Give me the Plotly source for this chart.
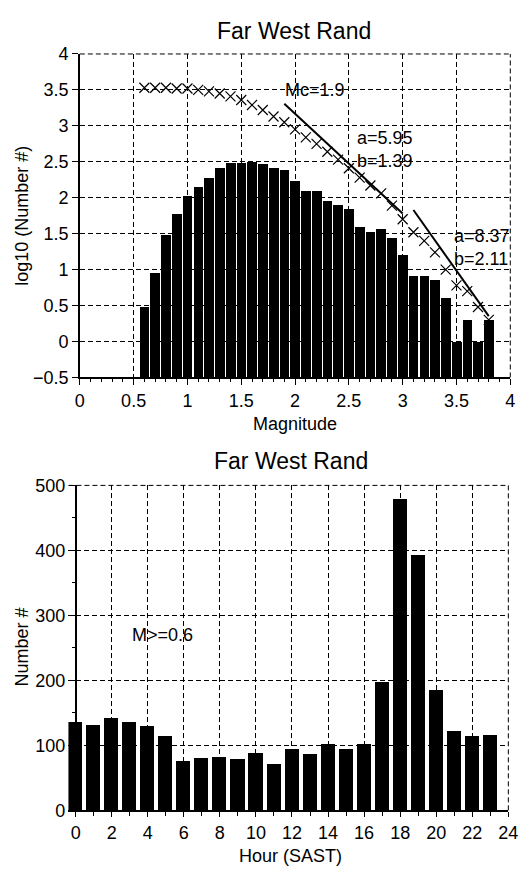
import plotly.graph_objects as go
import numpy as np

# ---------------- data ----------------
mag_centers = [0.6, 0.7, 0.8, 0.9, 1.0, 1.1, 1.2, 1.3, 1.4, 1.5, 1.6, 1.7, 1.8, 1.9, 2.0,
               2.1, 2.2, 2.3, 2.4, 2.5, 2.6, 2.7, 2.8, 2.9, 3.0, 3.1, 3.2, 3.3, 3.4, 3.5,
               3.6, 3.7, 3.8]
log_counts = [0.48, 0.96, 1.48, 1.78, 2.02, 2.15, 2.27, 2.42, 2.49, 2.49, 2.50, 2.47, 2.42,
              2.38, 2.24, 2.10, 2.09, 1.95, 1.90, 1.84, 1.59, 1.52, 1.56, 1.44, 1.20, 0.91,
              0.91, 0.85, 0.61, 0.00, 0.30, 0.00, 0.30]
log_cumulative = [3.53, 3.53, 3.53, 3.52, 3.52, 3.50, 3.48, 3.45, 3.41, 3.36, 3.29, 3.22,
                  3.13, 3.05, 2.95, 2.84, 2.75, 2.64, 2.53, 2.41, 2.28, 2.17, 2.06, 1.89,
                  1.70, 1.52, 1.40, 1.24, 1.00, 0.78, 0.70, 0.48, 0.30]
fit_a = [5.95, 8.37]
fit_b = [1.39, 2.11]
fit_start = [1.9, 3.1]
fit_end = [3.0, 3.8]
mc_value = 1.9

hours = list(range(24))
hour_counts = [136, 130, 141, 135, 129, 113, 75, 80, 82, 79, 87, 70, 93, 86, 101, 93, 101,
               197, 478, 392, 185, 121, 114, 115]

title_text = "Far West Rand"
FONT = "Liberation Sans, Arial, Helvetica, sans-serif"

W, H = 530, 877

fig = go.Figure()

# ---------------- top chart ----------------
base_top = -0.5
fig.add_trace(go.Bar(
    x=mag_centers, y=np.array(log_counts) - base_top, base=base_top,
    width=0.09, marker=dict(color="black", line=dict(width=0)),
    xaxis="x", yaxis="y", showlegend=False))

fig.add_trace(go.Scatter(
    x=mag_centers, y=log_cumulative, mode="markers",
    marker=dict(symbol="x-thin", size=10, color="black", line=dict(color="black", width=1.2)),
    xaxis="x", yaxis="y", showlegend=False))

for a, b, s, e in zip(fit_a, fit_b, fit_start, fit_end):
    xs = np.array([s, e])
    fig.add_trace(go.Scatter(
        x=xs, y=a - b * xs, mode="lines", line=dict(color="black", width=2),
        xaxis="x", yaxis="y", showlegend=False))

# ---------------- bottom chart ----------------
fig.add_trace(go.Bar(
    x=hours, y=hour_counts, width=0.78,
    marker=dict(color="black", line=dict(width=0)),
    xaxis="x2", yaxis="y2", showlegend=False))

DASH = "5px,3px"
grid = dict(showgrid=True, gridcolor="black", gridwidth=1, griddash=DASH)
axis_common = dict(showline=True, linecolor="black", linewidth=1.5, ticks="outside",
                   tickcolor="black", tickwidth=1, zeroline=False,
                   tickfont=dict(family=FONT, size=18, color="black"), **grid)

x2_left = -0.4
x2_right = 24
px0 = 72.7
pxr = 518.0
px_per = (pxr - px0) / 24.0
x2_left_px = px0 + x2_left * px_per

fig.update_layout(
    width=W, height=H,
    margin=dict(l=0, r=0, t=0, b=0),
    paper_bgcolor="white", plot_bgcolor="white",
    font=dict(family=FONT, size=18, color="black"),
    bargap=0,
    xaxis=dict(domain=[77 / W, 520 / W], anchor="y", range=[0, 4], tick0=0, dtick=0.5,
               ticklen=6, minor=dict(dtick=0.1, tick0=0, ticks="outside", ticklen=3,
                                     tickcolor="black", showgrid=False),
               **axis_common),
    yaxis=dict(domain=[1 - 376 / H, 1 - 45 / H], anchor="x", range=[-0.5, 4], tick0=0,
               dtick=0.5, ticklen=6, **axis_common),
    xaxis2=dict(domain=[x2_left_px / W, pxr / W], anchor="y2",
                range=[x2_left, x2_right],
                tick0=0, dtick=2, ticklen=5,
                minor=dict(dtick=1, tick0=0, ticks="outside", ticklen=4,
                           tickcolor="black", showgrid=False),
                **axis_common),
    yaxis2=dict(domain=[1 - 819 / H, 1 - 486.5 / H], anchor="free", position=px0 / W,
                range=[0, 500], tick0=0, dtick=100, ticklen=6,
                minor=dict(dtick=50, tick0=0, ticks="outside", ticklen=3,
                           tickcolor="black", showgrid=False),
                **axis_common),
)

# dashed frame lines at the top and right edges (grid lines at the range ends)
frame_line = dict(color="black", width=1, dash=DASH)
shapes = []
for xr, yr in (("x domain", "y domain"), ("x2 domain", "y2 domain")):
    shapes.append(dict(type="line", xref=xr, yref=yr, x0=0, x1=1, y0=1, y1=1,
                       line=frame_line, layer="below"))
    shapes.append(dict(type="line", xref=xr, yref=yr, x0=1, x1=1, y0=0, y1=1,
                       line=frame_line, layer="below"))
fig.update_layout(shapes=shapes)

ann_font = dict(family=FONT, size=18, color="black")
title_font = dict(family=FONT, size=23, color="black")


def paper_text(text, x, y, font, angle=0):
    return dict(text=text, x=x / W, y=1 - y / H, xref="paper", yref="paper",
                xanchor="center", yanchor="middle", showarrow=False,
                textangle=angle, font=font)


annotations = [
    paper_text(title_text, 297, 21, title_font),
    paper_text(title_text, 294.5, 462, title_font),
    paper_text("Magnitude", 298, 424, ann_font),
    paper_text("Hour (SAST)", 294, 866, ann_font),
    paper_text("log10 (Number #)", 18, 210, ann_font, -90),
    paper_text("Number #", 18, 652, ann_font, -90),
    dict(text="Mc=%.1f" % mc_value, x=1.89, y=3.5, xref="x", yref="y", xanchor="left",
         yanchor="middle", showarrow=False, font=ann_font),
    dict(text="a=%.2f<br>b=%.2f" % (fit_a[0], fit_b[0]), x=2.56, y=2.67, xref="x", yref="y",
         xanchor="left", yanchor="middle", align="left", showarrow=False, font=ann_font),
    dict(text="a=%.2f<br>b=%.2f" % (fit_a[1], fit_b[1]), x=3.46, y=1.31, xref="x", yref="y",
         xanchor="left", yanchor="middle", align="left", showarrow=False, font=ann_font),
    dict(text="M>=0.6", x=3.0, y=270, xref="x2", yref="y2", xanchor="left",
         yanchor="middle", showarrow=False, font=ann_font),
]
fig.update_layout(annotations=annotations)

fig.write_html("out.html")
